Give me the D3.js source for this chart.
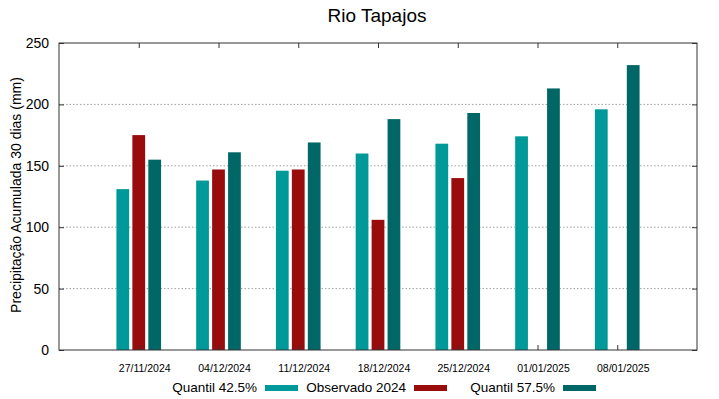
<!DOCTYPE html>
<html>
<head>
<meta charset="utf-8">
<script src="https://cdn.jsdelivr.net/npm/d3@7"></script>
<style>
  body { margin: 0; background: #fff; }
  text { font-family: "Liberation Sans", Arial, sans-serif; fill: #000; }
</style>
</head>
<body>
<svg id="chart" width="719" height="399"></svg>
<script>
const dates = ["27/11/2024", "04/12/2024", "11/12/2024", "18/12/2024", "25/12/2024", "01/01/2025", "08/01/2025"];
const quantil425 = [131, 138, 146, 160, 168, 174, 196];
const observado = [175, 147, 147, 106, 140, null, null];
const quantil575 = [155, 161, 169, 188, 193, 213, 232];
const yTicks = [0, 50, 100, 150, 200, 250];

const seriesNames = ["Quantil 42.5%", "Observado 2024", "Quantil 57.5%"];
const seriesColors = ["#009999", "#990c0c", "#006666"];
const seriesData = [quantil425, observado, quantil575];

const margin = { left: 59, right: 22, top: 43, bottom: 49 };
const W = 719, H = 399;
const width = W - margin.left - margin.right;
const height = H - margin.top - margin.bottom;

const svg = d3.select("#chart");
const g = svg.append("g").attr("transform", `translate(${margin.left},${margin.top})`);

const x = d3.scaleLinear().domain([-1, 7]).range([0, width]);
const y = d3.scaleLinear().domain([0, 250]).range([height, 0]);

const barW = x(0.16) - x(0);
const offsets = [-0.2, 0, 0.2];

// grid
g.append("g")
  .selectAll("line")
  .data(yTicks.filter(t => t > 0 && t < 250))
  .join("line")
  .attr("x1", 0).attr("x2", width)
  .attr("y1", d => y(d)).attr("y2", d => y(d))
  .attr("stroke", "#a0a0a0")
  .attr("stroke-width", 1)
  .attr("stroke-dasharray", "1.5,2");

// bars
seriesData.forEach((vals, s) => {
  g.append("g")
    .selectAll("rect")
    .data(vals.map((v, i) => ({ v, i })).filter(d => d.v != null))
    .join("rect")
    .attr("x", d => x(d.i + offsets[s]) - barW / 2)
    .attr("y", d => y(d.v))
    .attr("width", barW)
    .attr("height", d => y(0) - y(d.v))
    .attr("fill", seriesColors[s]);
});

// axes
const leftAxis = d3.axisLeft(y).tickValues(yTicks).tickSize(-5).tickPadding(10);
const rightAxis = d3.axisRight(y).tickValues(yTicks).tickSize(-5).tickFormat("");
const bottomAxis = d3.axisBottom(x).tickValues(d3.range(dates.length)).tickSize(-5).tickFormat("");
const topAxis = d3.axisTop(x).tickValues(d3.range(dates.length)).tickSize(-5).tickFormat("");

const styleAxis = sel => {
  sel.select(".domain").remove();
  sel.selectAll("line").attr("stroke", "#333");
};

g.append("g").call(leftAxis).call(styleAxis)
  .selectAll("text").attr("font-size", 14).attr("font-family", "Liberation Sans, Arial, sans-serif");
g.append("g").attr("transform", `translate(${width},0)`).call(rightAxis).call(styleAxis);
g.append("g").attr("transform", `translate(0,${height})`).call(bottomAxis).call(styleAxis);
g.append("g").call(topAxis).call(styleAxis);

g.append("rect")
  .attr("width", width).attr("height", height)
  .attr("fill", "none").attr("stroke", "#333").attr("stroke-width", 1);

// x labels
g.append("g")
  .selectAll("text")
  .data(dates)
  .join("text")
  .attr("x", (d, i) => x(i) + 6)
  .attr("y", height + 22)
  .attr("text-anchor", "middle")
  .attr("font-size", 10.5)
  .text(d => d);

// title
svg.append("text")
  .attr("x", 377).attr("y", 22)
  .attr("text-anchor", "middle")
  .attr("font-size", 19)
  .text("Rio Tapajos");

// y label
svg.append("text")
  .attr("transform", `translate(21,195) rotate(-90)`)
  .attr("text-anchor", "middle")
  .attr("font-size", 14)
  .text("Precipitação Acumulada 30 dias (mm)");

// legend
const legendX = [257, 406, 555];
const legend = svg.append("g");
seriesNames.forEach((name, s) => {
  legend.append("text")
    .attr("x", legendX[s]).attr("y", 392)
    .attr("text-anchor", "end")
    .attr("font-size", 13.5)
    .text(name);
  legend.append("rect")
    .attr("x", legendX[s] + 8).attr("y", 385)
    .attr("width", 33).attr("height", 6)
    .attr("fill", seriesColors[s]);
});
</script>
</body>
</html>
